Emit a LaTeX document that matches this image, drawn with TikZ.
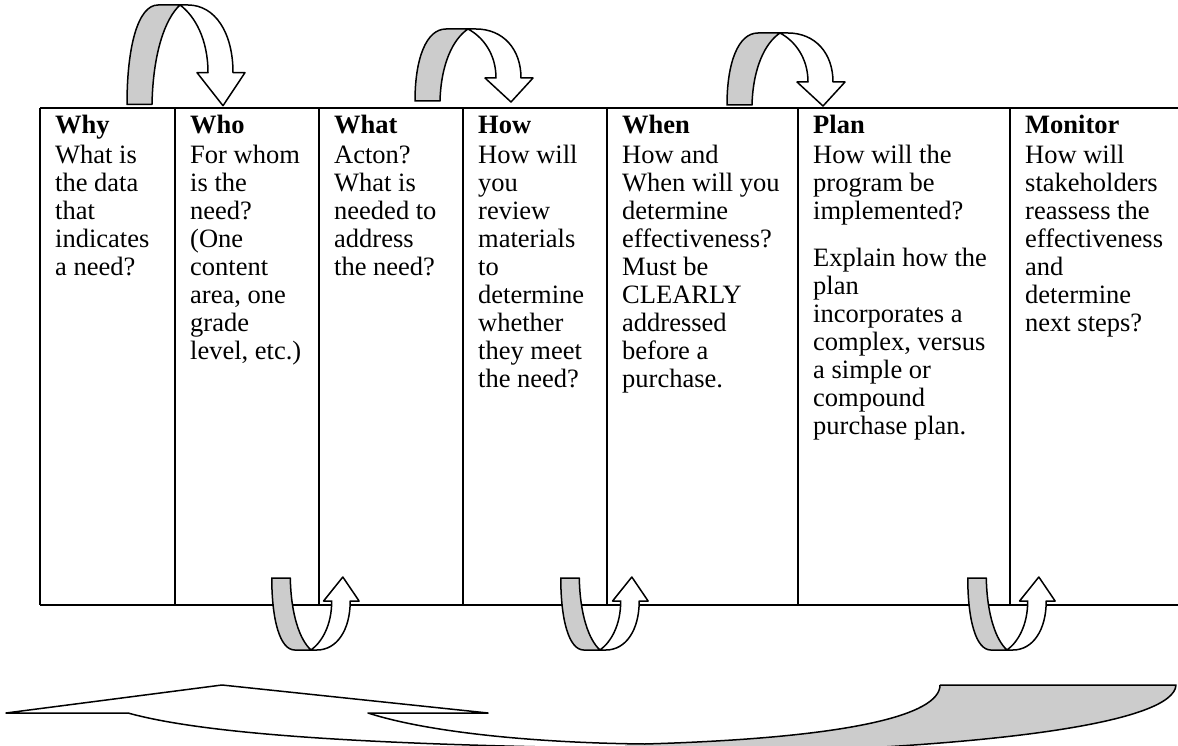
\documentclass[tikz,border=0pt]{standalone}
\usepackage{fontspec}
\setmainfont{Liberation Serif}
\definecolor{backgray}{HTML}{CCCCCC}
\begin{document}
\begin{tikzpicture}[x=1pt,y=-1pt,
  tableline/.style={line width=1.6pt},
  arrowline/.style={line width=1.5pt, line join=round},
  backface/.style={arrowline, fill=backgray},
  frontface/.style={arrowline, fill=white},
  coltext/.style={anchor=north west, inner sep=0pt, align=left,
     font=\fontsize{26.5}{28}\selectfont},
  uturn/.pic={
    \filldraw[backface] (-53,72) .. controls (-53,30) and (-42,0) .. (-22,0) -- (0,0)
        .. controls (-15,10) and (-27,35) .. (-28,72) -- cycle;
    \filldraw[frontface] (0,0) -- (8,0) .. controls (35,0) and (53,20) .. (53,49)
        -- (65,49) -- (43,73) -- (17,49) -- (28,49) .. controls (28,25) and (15,8) .. (0,0) -- cycle;
  }]
\useasboundingbox (0,0) rectangle (1178,746);
\clip (0,0) rectangle (1178,746);

% table
\draw[tableline] (40,108) -- (1180,108);
\draw[tableline] (40,605) -- (1180,605);
\foreach \cx in {40,175,319,463,607,798,1010}
  \draw[tableline] (\cx,108) -- (\cx,605);

% column texts
\node[coltext] (why) at (55,113.4) {\strut\textbf{Why}\\[2pt]What is\\the data\\that\\indicates\\a need?};
\node[coltext] (who) at (190,113.4) {\strut\textbf{Who}\\[2pt]For whom\\is the\\need?\\(One\\content\\area, one\\grade\\level, etc.)};
\node[coltext] (what) at (334,113.4) {\strut\textbf{What}\\[2pt]Acton?\\What is\\needed to\\address\\the need?};
\node[coltext] (how) at (478,113.4) {\strut\textbf{How}\\[2pt]How will\\you\\review\\materials\\to\\determine\\whether\\they meet\\the need?};
\node[coltext] (when) at (622,113.4) {\strut\textbf{When}\\[2pt]How and\\When will you\\determine\\effectiveness?\\Must be\\CLEARLY\\addressed\\before a\\purchase.};
\node[coltext] (plan) at (813,113.4) {\strut\textbf{Plan}\\[2pt]How will the\\program be\\implemented?\\[19pt]Explain how the\\plan\\incorporates a\\complex, versus\\a simple or\\compound\\purchase plan.};
\node[coltext] (monitor) at (1025,113.4) {\strut\textbf{Monitor}\\[2pt]How will\\stakeholders\\reassess the\\effectiveness\\and\\determine\\next steps?};

% top u-turn arrows
\pic[yscale=1.38] at (180,5) {uturn};
\pic at (468,29) {uturn};
\pic at (780,33) {uturn};

% bottom u-turn arrows
\pic[xscale=0.74,yscale=-1] at (311,650) {uturn};
\pic[xscale=0.74,yscale=-1] at (600,650) {uturn};
\pic[xscale=0.74,yscale=-1] at (1007,650) {uturn};

% big curved arrow: back face
\fill[backgray] (940,685) .. controls (940,715) and (850,738) .. (645,744)
   -- (625,744.3) -- (625,760) -- (700,760) -- (700,754)
   .. controls (1000,748) and (1174,722) .. (1176,685) -- cycle;
\draw[arrowline] (940,685) -- (1176,685) .. controls (1174,722) and (1000,748) .. (700,754);
% front face
\coordinate (headL) at (6,713);
\coordinate (headT) at (222,685);
\coordinate (headR) at (488,713);
\coordinate (baseA) at (128,713);
\coordinate (baseB) at (368,713);
\draw[arrowline] (baseA) -- (headL) -- (headT) -- (headR) -- (baseB)
   .. controls (430,733) and (540,743) .. (645,744)
   .. controls (850,738) and (940,715) .. (940,685);
\draw[arrowline] (baseA) .. controls (200,733) and (350,744) .. (600,748);
\end{tikzpicture}
\end{document}
